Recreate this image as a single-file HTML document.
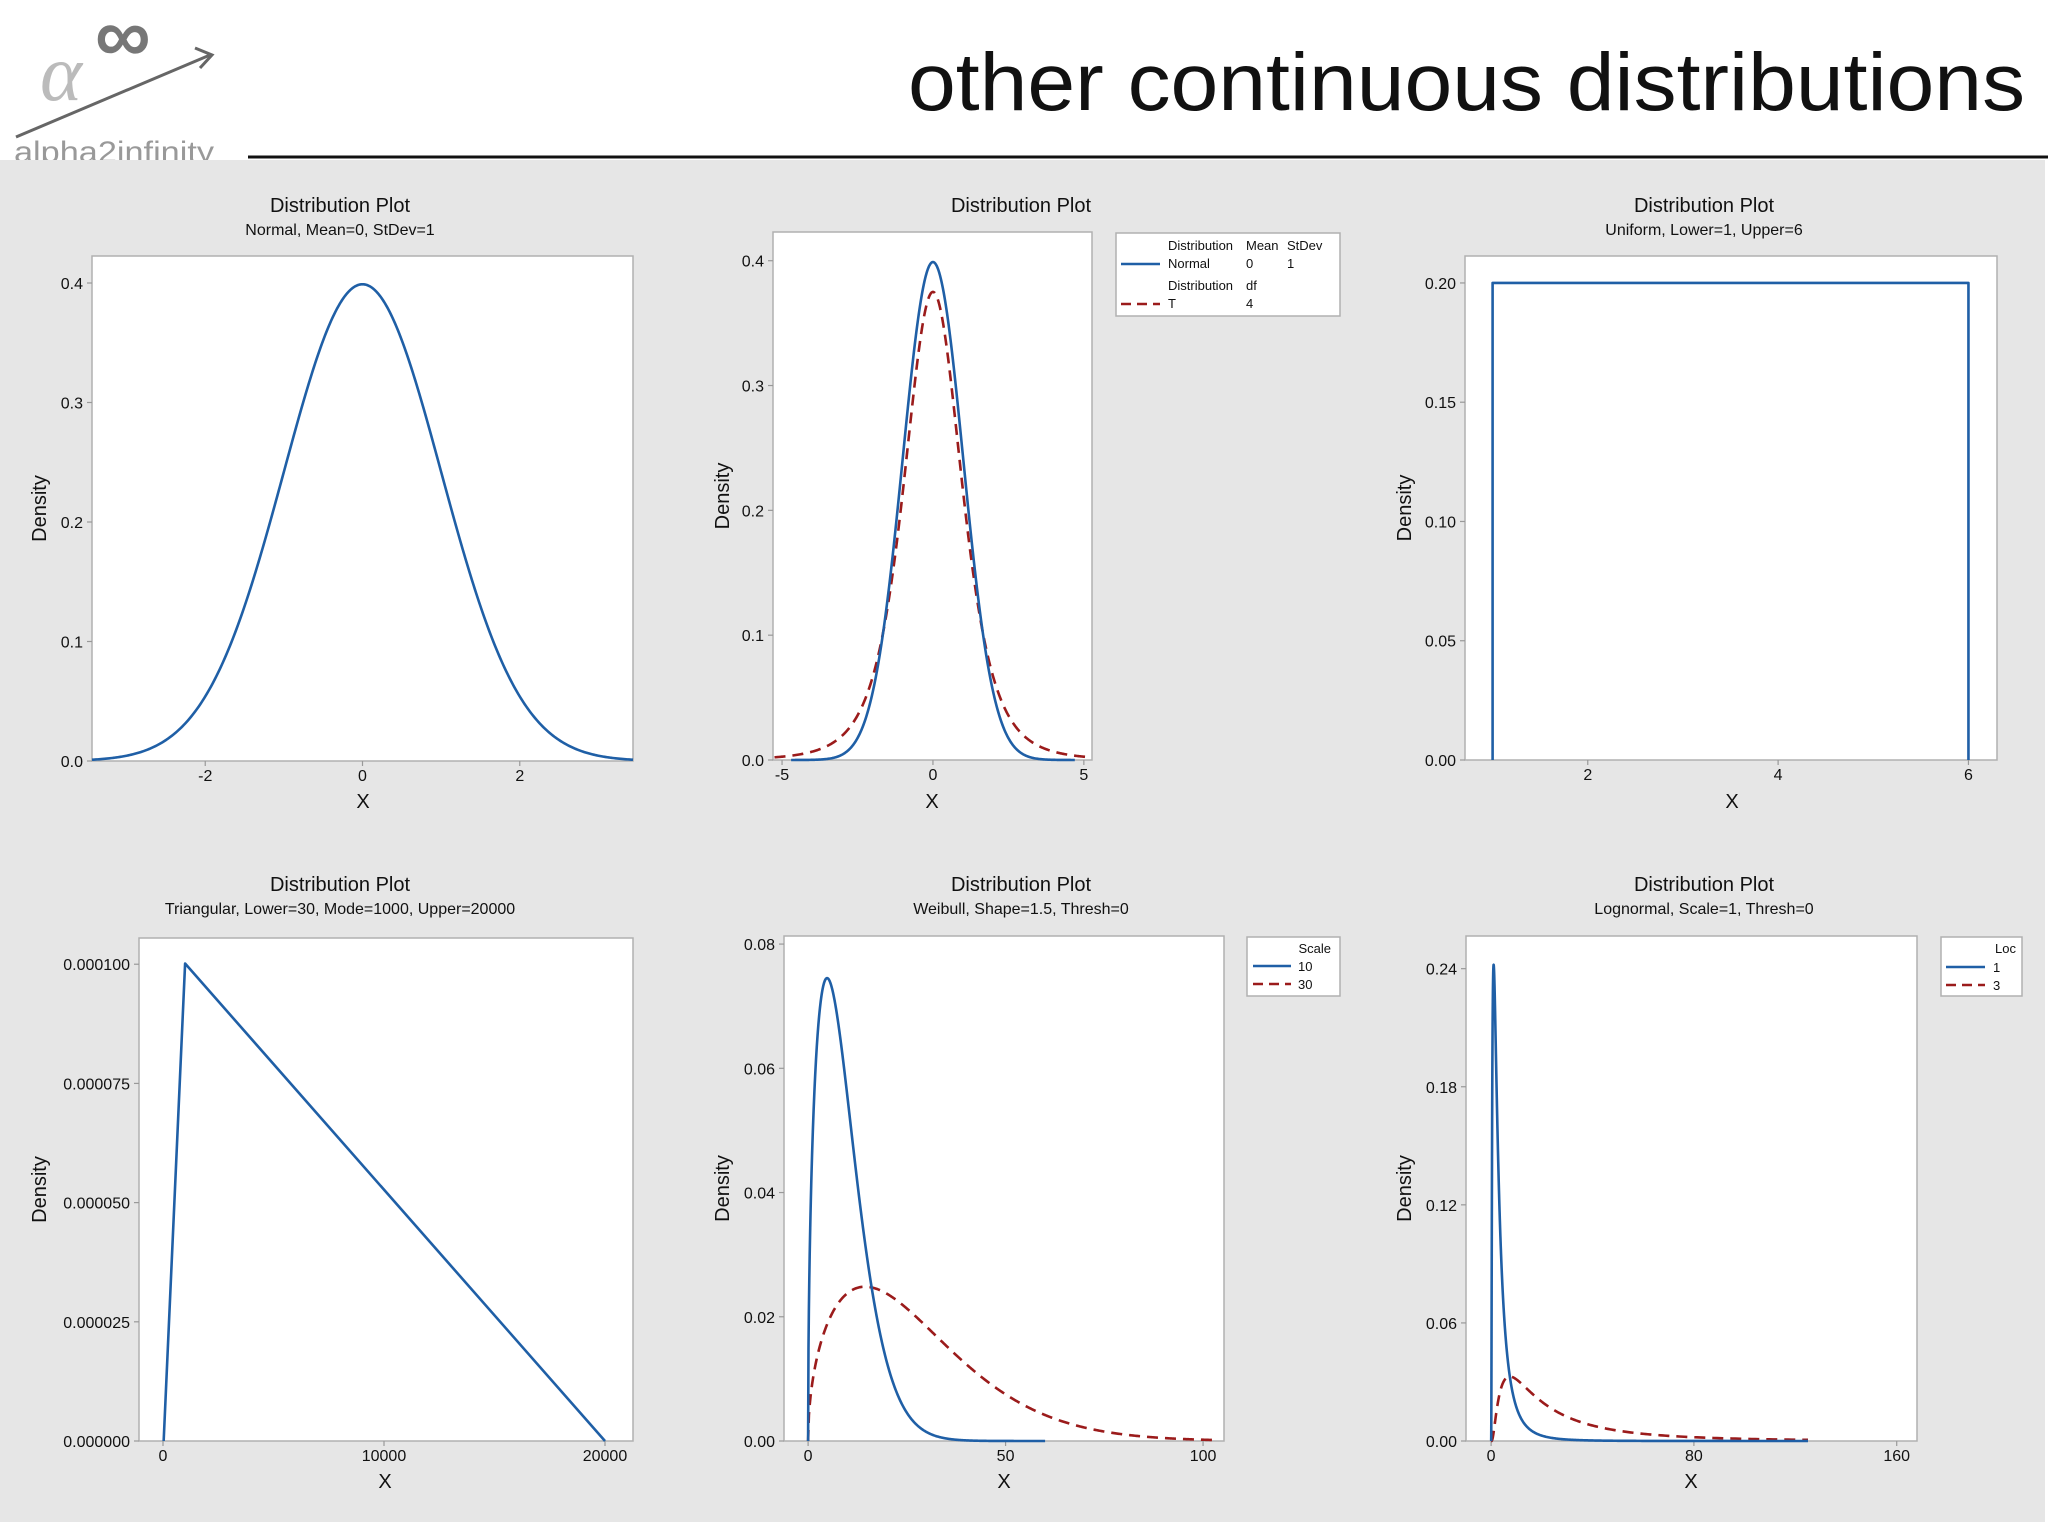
<!DOCTYPE html>
<html><head><meta charset="utf-8"><style>
html,body{margin:0;padding:0;background:#fff}
svg{display:block;font-family:"Liberation Sans",sans-serif}
</style></head><body>
<svg id="s" width="2048" height="1536" viewBox="0 0 2048 1536" xmlns="http://www.w3.org/2000/svg">
<rect x="0" y="0" width="2048" height="1536" fill="#fff"/>
<g>
<text x="40" y="100" font-size="80" fill="#bbb" font-family="Liberation Serif,serif" font-style="italic">α</text>
<text x="95" y="62" font-size="78" fill="#777" font-weight="bold">∞</text>
<line x1="16" y1="137" x2="210" y2="55" stroke="#666" stroke-width="3"/>
<polyline points="195,48 212,55 200,68" fill="none" stroke="#666" stroke-width="3"/>
<text x="14" y="162" font-size="30" fill="#999" textLength="200" lengthAdjust="spacingAndGlyphs">alpha2infinity</text>
</g>
<text x="908" y="110" font-size="82" fill="#111" textLength="1117" lengthAdjust="spacingAndGlyphs">other continuous distributions</text>
<line x1="248" y1="157" x2="2048" y2="157" stroke="#111" stroke-width="3"/>
<rect x="0" y="160" width="2045" height="1362" fill="#e6e6e6"/>
<g id="charts"></g>
</svg>
<script>
const NS="http://www.w3.org/2000/svg";
const root=document.getElementById('charts');
// ---- data ----
const normalParams=[0,1];            // mean, sd
const tDf=[4];
const uniformBounds=[1,6];
const triParams=[30,1000,20000];     // lower, mode, upper
const weibullShape=[1.5];
const weibullScales=[10,30];
const lognormScale=[1];
const lognormLocs=[1,3];
const yTicks1=[0,0.1,0.2,0.3,0.4], yTickLabels1=["0.0","0.1","0.2","0.3","0.4"];
const xTicks1=[-2,0,2];
const xTicks2=[-5,0,5];
const yTicks3=[0,0.05,0.1,0.15,0.2], yTickLabels3=["0.00","0.05","0.10","0.15","0.20"];
const xTicks3=[2,4,6];
const yTicks4=[0,0.000025,0.00005,0.000075,0.0001], yTickLabels4=["0.000000","0.000025","0.000050","0.000075","0.000100"];
const xTicks4=[0,10000,20000];
const yTicks5=[0,0.02,0.04,0.06,0.08], yTickLabels5=["0.00","0.02","0.04","0.06","0.08"];
const xTicks5=[0,50,100];
const yTicks6=[0,0.06,0.12,0.18,0.24], yTickLabels6=["0.00","0.06","0.12","0.18","0.24"];
const xTicks6=[0,80,160];

const BLUE="#1f5fa6", RED="#9b1b1b";
function el(t,a,p){const e=document.createElementNS(NS,t);for(const k in a)e.setAttribute(k,a[k]);(p||root).appendChild(e);return e;}
function gammaFn(z){const g=7,c=[0.99999999999980993,676.5203681218851,-1259.1392167224028,771.32342877765313,-176.61502916214059,12.507343278686905,-0.13857109526572012,9.9843695780195716e-6,1.5056327351493116e-7];
 if(z<0.5)return Math.PI/(Math.sin(Math.PI*z)*gammaFn(1-z));z-=1;let x=c[0];for(let i=1;i<g+2;i++)x+=c[i]/(z+i);const t=z+g+0.5;return Math.sqrt(2*Math.PI)*Math.pow(t,z+0.5)*Math.exp(-t)*x;}
const pdfNorm=(x,m,s)=>Math.exp(-((x-m)**2)/(2*s*s))/(s*Math.sqrt(2*Math.PI));
const pdfT=(x,v)=>gammaFn((v+1)/2)/(Math.sqrt(v*Math.PI)*gammaFn(v/2))*Math.pow(1+x*x/v,-(v+1)/2);
const pdfWeib=(x,k,l)=>x<=0?0:(k/l)*Math.pow(x/l,k-1)*Math.exp(-Math.pow(x/l,k));
const pdfLogn=(x,mu,s)=>x<=0?0:Math.exp(-((Math.log(x)-mu)**2)/(2*s*s))/(x*s*Math.sqrt(2*Math.PI));

function chart(o){
 const g=el('g',{});
 
 
 const sx=v=>o.L+(v-o.x0)/(o.x1-o.x0)*(o.R-o.L);
 const sy=v=>o.B-(v-o.y0)/(o.y1-o.y0)*(o.B-o.T);
 const r=el('rect',{x:o.L,y:o.T,width:o.R-o.L,height:o.B-o.T,fill:"#fff",stroke:"#b0b0b0","stroke-width":1.5},g);
 
 const t1=el('text',{x:o.tx,y:o.ty+7,"font-size":20,"text-anchor":"middle",fill:"#111"},g);t1.textContent="Distribution Plot";
 
 if(o.sub){const t2=el('text',{x:o.tx,y:o.ty+30,"font-size":16,"text-anchor":"middle",fill:"#111"},g);t2.textContent=o.sub;
  }
 o.yt.forEach((v,i)=>{const y=sy(v);
  el('line',{x1:o.L-5,y1:y,x2:o.L,y2:y,stroke:"#999","stroke-width":1.2},g);
  const t=el('text',{x:o.L-9,y:y+6,"font-size":16,"text-anchor":"end",fill:"#111"},g);t.textContent=o.ytl[i];
  });
 o.xt.forEach(v=>{const x=sx(v);
  el('line',{x1:x,y1:o.B,x2:x,y2:o.B+5,stroke:"#999","stroke-width":1.2},g);
  const t=el('text',{x:x,y:o.B+20,"font-size":16,"text-anchor":"middle",fill:"#111"},g);t.textContent=String(v);
  });
 const yl=el('text',{x:o.dx,y:(o.T+o.B)/2,"font-size":20,"text-anchor":"middle",fill:"#111",transform:`rotate(-90 ${o.dx} ${(o.T+o.B)/2})`,dy:7},g);yl.textContent="Density";
 
 const xl=el('text',{x:o.xlx,y:o.xly+7,"font-size":20,"text-anchor":"middle",fill:"#111"},g);xl.textContent="X";
 
 o.series.forEach(s=>{let d="";s.pts.forEach((p,i)=>{d+=(i?"L":"M")+sx(p[0]).toFixed(2)+","+sy(p[1]).toFixed(2);});
  const a={d:d,fill:"none",stroke:s.c,"stroke-width":2.6,"stroke-linejoin":"round"};if(s.dash)a["stroke-dasharray"]="11 7";
  const p=el('path',a,g);});
 return g;
}
function sample(f,a,b,n){const p=[];for(let i=0;i<=n;i++){const x=a+(b-a)*i/n;p.push([x,f(x)]);}return p;}
function sampleLog(f,a,b,n){const p=[[0,0]];for(let i=0;i<=n;i++){const x=a*Math.pow(b/a,i/n);p.push([x,f(x)]);}return p;}

// 1 Normal
chart({name:"normal-chart",L:92,R:633,T:256,B:761,x0:-3.44,x1:3.44,y0:0,y1:0.4226,tx:340,ty:205,sub:"Normal, Mean=0, StDev=1",
 yt:yTicks1,ytl:yTickLabels1,xt:xTicks1,dx:39,xlx:363,xly:801,
 series:[{name:"normal-curve",c:BLUE,pts:sample(x=>pdfNorm(x,normalParams[0],normalParams[1]),-3.44,3.44,400)}]});
// 2 Normal vs T
chart({name:"normal-t-chart",L:773,R:1092,T:232,B:760,x0:-5.3,x1:5.27,y0:0,y1:0.423,tx:1021,ty:205,
 yt:yTicks1,ytl:yTickLabels1,xt:xTicks2,dx:722,xlx:932,xly:801,
 series:[{name:"t-curve",c:RED,dash:1,pts:sample(x=>pdfT(x,tDf[0]),-5.25,5.25,400)},
 {name:"normal-curve",c:BLUE,pts:sample(x=>pdfNorm(x,normalParams[0],normalParams[1]),-4.7,4.7,400)}]});
// 3 Uniform
{const h=1/(uniformBounds[1]-uniformBounds[0]);
chart({name:"uniform-chart",L:1465,R:1997,T:256,B:760,x0:0.71,x1:6.3,y0:0,y1:0.2113,tx:1704,ty:205,sub:"Uniform, Lower=1, Upper=6",
 yt:yTicks3,ytl:yTickLabels3,xt:xTicks3,dx:1404,xlx:1732,xly:801,
 series:[{name:"uniform-curve",c:BLUE,pts:[[uniformBounds[0],0],[uniformBounds[0],h],[uniformBounds[1],h],[uniformBounds[1],0]]}]});}
// 4 Triangular
{const [a,m,b]=triParams,h=2/(b-a);
chart({name:"triangular-chart",L:139,R:633,T:938,B:1441,x0:-1086,x1:21267,y0:0,y1:0.0001055,tx:340,ty:884,sub:"Triangular, Lower=30, Mode=1000, Upper=20000",
 yt:yTicks4,ytl:yTickLabels4,xt:xTicks4,dx:39,xlx:385,xly:1481,
 series:[{name:"triangular-curve",c:BLUE,pts:[[a,0],[m,h],[b,0]]}]});}
// 5 Weibull
chart({name:"weibull-chart",L:784,R:1224,T:936,B:1441,x0:-6.1,x1:105.3,y0:0,y1:0.0813,tx:1021,ty:884,sub:"Weibull, Shape=1.5, Thresh=0",
 yt:yTicks5,ytl:yTickLabels5,xt:xTicks5,dx:722,xlx:1004,xly:1481,
 series:[{name:"weibull-scale-30",c:RED,dash:1,pts:sample(x=>pdfWeib(x,weibullShape[0],weibullScales[1]),0,104,500)},
 {name:"weibull-scale-10",c:BLUE,pts:sample(x=>pdfWeib(x,weibullShape[0],weibullScales[0]),0,60,600)}]});
// 6 Lognormal
chart({name:"lognormal-chart",L:1466,R:1917,T:936,B:1441,x0:-9.9,x1:168,y0:0,y1:0.2566,tx:1704,ty:884,sub:"Lognormal, Scale=1, Thresh=0",
 yt:yTicks6,ytl:yTickLabels6,xt:xTicks6,dx:1404,xlx:1691,xly:1481,
 series:[{name:"lognormal-loc-3",c:RED,dash:1,pts:sampleLog(x=>pdfLogn(x,lognormLocs[1],lognormScale[0]),0.05,125,600)},
 {name:"lognormal-loc-1",c:BLUE,pts:sampleLog(x=>pdfLogn(x,lognormLocs[0],lognormScale[0]),0.02,125,800)}]});

// legends
function legend(name,x,y,w,h,items){
 const g=el('g',{});
 el('rect',{x:x,y:y,width:w,height:h,fill:"#fff",stroke:"#b0b0b0","stroke-width":1.5},g);
 items.forEach(it=>{if(it.line){const a={x1:it.line[0],y1:it.line[1],x2:it.line[2],y2:it.line[1],stroke:it.c,"stroke-width":2.4};if(it.dash)a["stroke-dasharray"]="10 6";el('line',a,g);}
  else{const t=el('text',{x:it.x,y:it.y,"font-size":13,fill:"#111","text-anchor":it.a||"start"},g);t.textContent=it.t;}});
}
legend("normal-t-legend",1116,233,224,83,[
 {t:"Distribution",x:1168,y:250},{t:"Mean",x:1246,y:250},{t:"StDev",x:1287,y:250},
 {line:[1121,264,1160],c:BLUE},{t:"Normal",x:1168,y:268},{t:"0",x:1246,y:268},{t:"1",x:1287,y:268},
 {t:"Distribution",x:1168,y:290},{t:"df",x:1246,y:290},
 {line:[1121,304,1160],c:RED,dash:1},{t:"T",x:1168,y:308},{t:"4",x:1246,y:308}]);
legend("weibull-legend",1247,937,93,59,[
 {t:"Scale",x:1331,y:953,a:"end"},{line:[1253,966,1291],c:BLUE},{t:"10",x:1298,y:971},
 {line:[1253,984,1291],c:RED,dash:1},{t:"30",x:1298,y:989}]);
legend("lognormal-legend",1941,937,81,59,[
 {t:"Loc",x:2016,y:953,a:"end"},{line:[1946,967,1985],c:BLUE},{t:"1",x:1993,y:972},
 {line:[1946,985,1985],c:RED,dash:1},{t:"3",x:1993,y:990}]);
</script>
</body></html>
